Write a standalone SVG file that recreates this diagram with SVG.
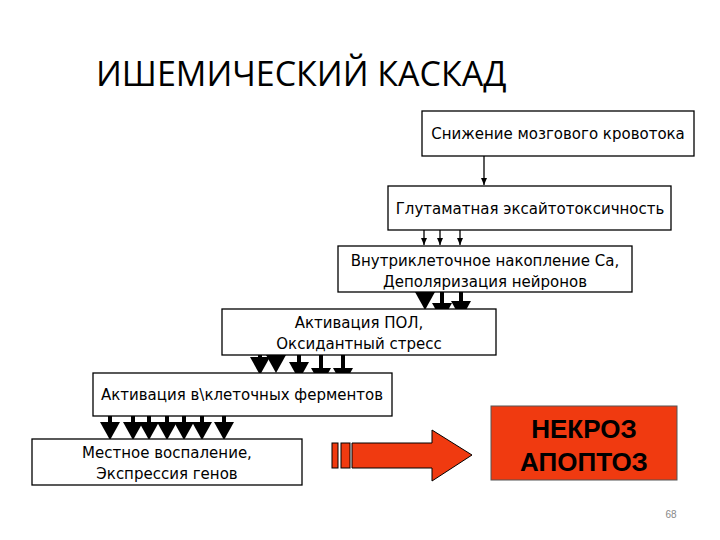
<svg xmlns="http://www.w3.org/2000/svg" width="720" height="540" viewBox="0 0 720 540">
<style>
.b{fill:#fff;stroke:#000;stroke-width:1.3}
.t{font-family:Tahoma,"DejaVu Sans",sans-serif;font-size:15px;text-anchor:middle;fill:#000}
.thin{stroke:#000;stroke-width:1.3}
.thick{stroke:#000;stroke-width:4}
</style>
<defs>
<marker id="a" markerWidth="8" markerHeight="8" refX="7" refY="4" orient="auto" markerUnits="userSpaceOnUse"><path d="M0,1 L7,4 L0,7z"/></marker>
<path id="h" d="M-10,0 L10,0 L0,18z"/>
</defs>
<rect width="720" height="540" fill="#fff"/>
<text x="96" y="86" style="font-family:'Open Sans','DejaVu Sans',sans-serif;font-size:34px">ИШЕМИЧЕСКИЙ КАСКАД</text>
<g id="connectors">
<line class="thin" x1="484" y1="156" x2="484" y2="185" marker-end="url(#a)"/>
<line class="thin" x1="424" y1="230" x2="424" y2="245" marker-end="url(#a)"/>
<line class="thin" x1="440" y1="230" x2="440" y2="245" marker-end="url(#a)"/>
<line class="thin" x1="460" y1="230" x2="460" y2="245" marker-end="url(#a)"/>
<use href="#h" x="425" y="292"/>
<line class="thick" x1="442" y1="292" x2="442" y2="304"/><use href="#h" x="442" y="303"/>
<line class="thick" x1="461" y1="292" x2="461" y2="302"/><use href="#h" x="461" y="301"/>
<g>
<line class="thick" x1="260" y1="355" x2="260" y2="360"/><use href="#h" x="260" y="357"/>
<use href="#h" x="276" y="355"/>
<line class="thick" x1="299" y1="355" x2="299" y2="364"/><use href="#h" x="299" y="362"/>
<line class="thick" x1="321" y1="355" x2="321" y2="370"/><use href="#h" x="321" y="368"/>
<line class="thick" x1="343" y1="355" x2="343" y2="370"/><use href="#h" x="343" y="368"/>
</g>
<g>
<line class="thick" x1="110" y1="416" x2="110" y2="424"/><use href="#h" x="110" y="422"/>
<line class="thick" x1="133" y1="416" x2="133" y2="424"/><use href="#h" x="133" y="422"/>
<line class="thick" x1="149" y1="416" x2="149" y2="424"/><use href="#h" x="149" y="422"/>
<line class="thick" x1="167" y1="416" x2="167" y2="424"/><use href="#h" x="167" y="422"/>
<line class="thick" x1="184" y1="416" x2="184" y2="424"/><use href="#h" x="184" y="422"/>
<line class="thick" x1="202" y1="416" x2="202" y2="424"/><use href="#h" x="202" y="422"/>
<line class="thick" x1="224" y1="416" x2="224" y2="424"/><use href="#h" x="224" y="422"/>
</g>
<g stroke="#000" stroke-width="1" fill="#f03a10">
<rect x="332" y="443" width="6" height="25"/>
<rect x="341" y="443" width="9" height="25"/>
<path d="M352,443 L432,443 L432,430 L472,455 L432,481 L432,468 L352,468z"/>
</g>
</g>
<g id="n1"><rect class="b" x="422" y="111" width="272" height="45"/><text class="t" x="558" y="139">Снижение мозгового  кровотока</text></g>
<g id="n2"><rect class="b" x="388" y="186" width="283" height="44"/><text class="t" x="530" y="214">Глутаматная эксайтотоксичность</text></g>
<g id="n3"><rect class="b" x="338" y="246" width="294" height="46"/><text class="t" x="485" y="266">Внутриклеточное накопление Са,</text><text class="t" x="485" y="287">Деполяризация нейронов</text></g>
<g id="n4"><rect class="b" x="222" y="309" width="274" height="46"/><text class="t" x="359" y="328">Активация ПОЛ,</text><text class="t" x="359" y="349">Оксидантный стресс</text></g>
<g id="n5"><rect class="b" x="93" y="373" width="299" height="43"/><text class="t" x="242" y="400">Активация в\клеточных ферментов</text></g>
<g id="n6"><rect class="b" x="32" y="439" width="270" height="46"/><text class="t" x="167" y="458">Местное воспаление,</text><text class="t" x="167" y="479">Экспрессия  генов</text></g>
<g id="n7"><rect x="491" y="406" width="186" height="74" fill="#f03a10" stroke="#555" stroke-width="1"/>
<text x="584" y="438" style="font-family:'Liberation Sans',Arial,sans-serif;font-size:26px;font-weight:bold;text-anchor:middle">НЕКРОЗ</text>
<text x="584" y="471" style="font-family:'Liberation Sans',Arial,sans-serif;font-size:26px;font-weight:bold;text-anchor:middle">АПОПТОЗ</text></g>
<text x="671" y="518" style="font-family:'Liberation Sans',sans-serif;font-size:10px;fill:#888;text-anchor:middle">68</text>
</svg>
